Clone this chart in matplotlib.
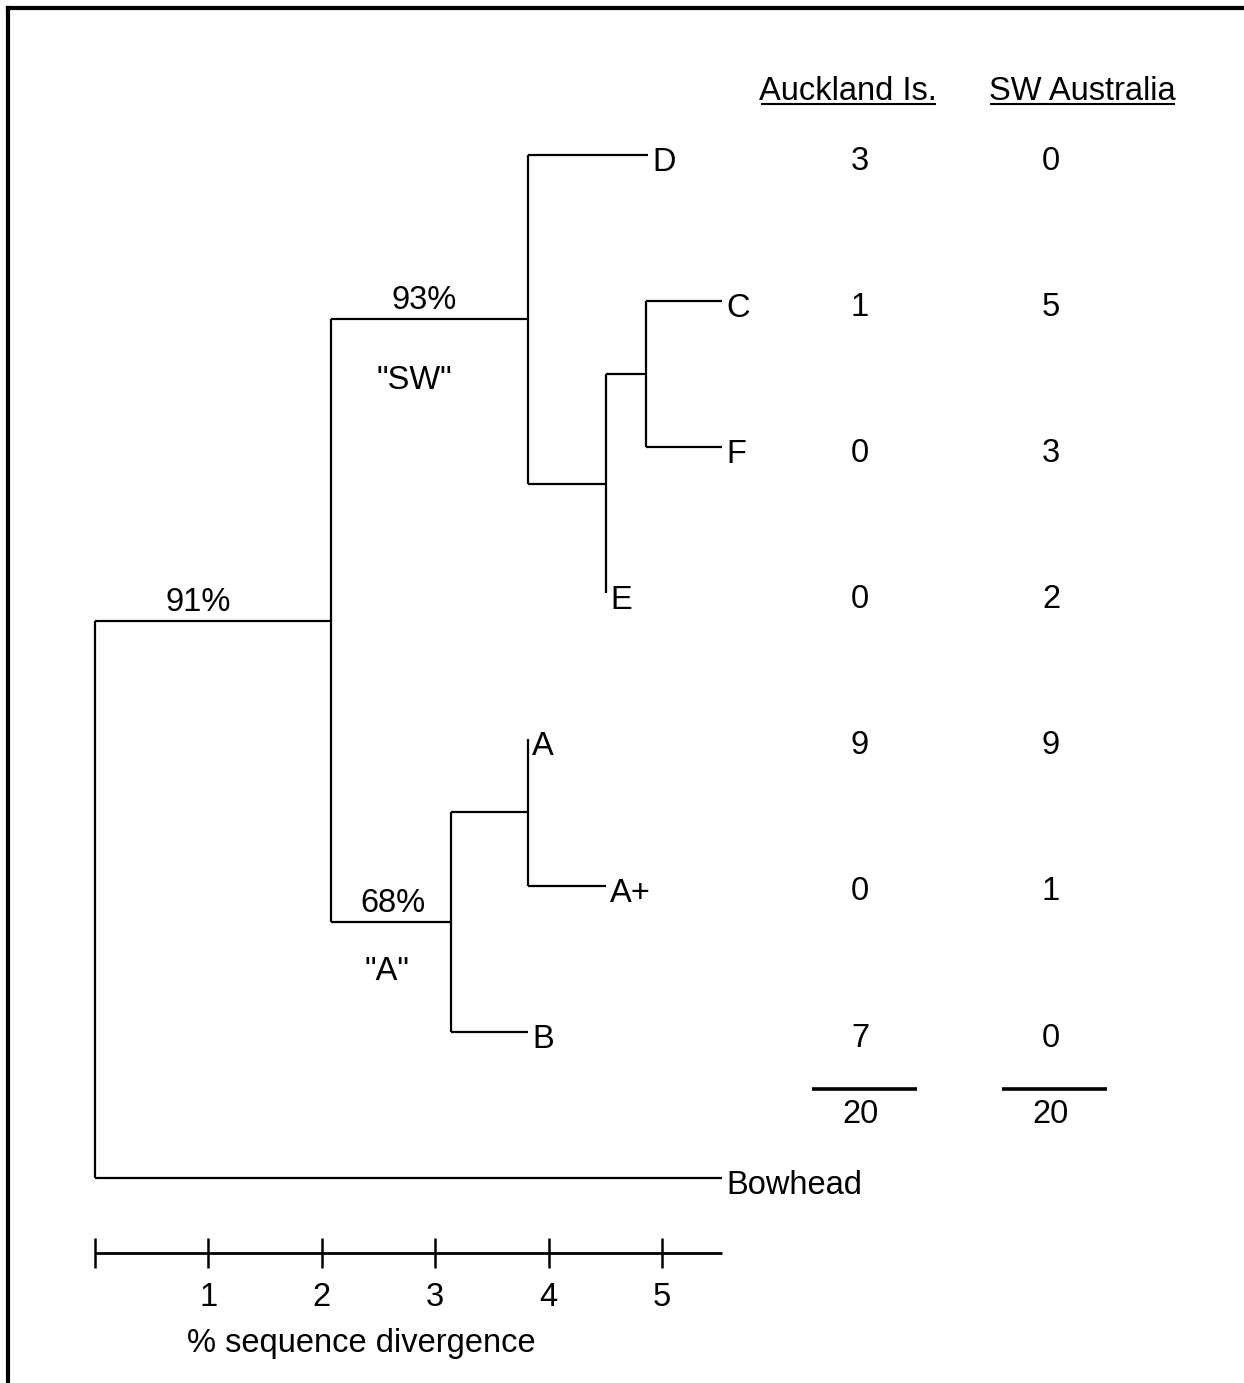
import matplotlib
matplotlib.use('Agg')
import matplotlib.pyplot as plt
from matplotlib.lines import Line2D

plt.rcParams['font.family'] = ['Liberation Sans', 'DejaVu Sans']

# ---------------- data ----------------
tip_names = ['D', 'C', 'F', 'E', 'A', 'A+', 'B', 'Bowhead']
tip_x = [4.88, 5.53, 5.53, 4.51, 3.82, 4.51, 3.82, 5.53]   # % divergence from root

node_names = ['CF', 'CFE', 'SW', 'AAp', 'Aclade', 'ingroup', 'root']
node_x = [4.86, 4.51, 3.82, 3.82, 3.14, 2.08, 0.0]
node_children = [['C', 'F'], ['CF', 'E'], ['D', 'CFE'], ['A', 'A+'],
                 ['AAp', 'B'], ['SW', 'Aclade'], ['ingroup', 'Bowhead']]

support_nodes = ['ingroup', 'SW', 'Aclade']
support_labels = ['91%', '93%', '68%']
clade_nodes = ['SW', 'Aclade']
clade_labels = ['"SW"', '"A"']

haplotypes = ['D', 'C', 'F', 'E', 'A', 'A+', 'B']
auckland = [3, 1, 0, 0, 9, 0, 7]
sw_australia = [0, 5, 3, 2, 9, 1, 0]
column_titles = ['Auckland Is.', 'SW Australia']

scale_ticks = [0, 1, 2, 3, 4, 5]
scale_tick_labels = ['', '1', '2', '3', '4', '5']
scale_end = 5.53
scale_label = '% sequence divergence'

# ---------------- layout ----------------
W, H, DPI = 1244, 1383, 100
X0, SX = 95.0, 113.4      # px of 0 divergence, px per 1 %
Y0, SY = 155.0, 146.1     # px of first tip row, px per row


def dx(px):
    return px / SX


def dy(px):
    return px / SY


def xpx(px):
    return (px - X0) / SX


def ypx(px):
    return (px - Y0) / SY


fig = plt.figure(figsize=(W / DPI, H / DPI), dpi=DPI)
ax = fig.add_axes([0, 0, 1, 1])
ax.set_xlim(xpx(0), xpx(W))
ax.set_ylim(ypx(H), ypx(0))
ax.axis('off')

FS = 23.5
LW = 1.6
K = 'black'

# positions
pos = {}
for i, n in enumerate(tip_names):
    pos[n] = (tip_x[i], float(i))
for n, x, ch in zip(node_names, node_x, node_children):
    ys = [pos[c][1] for c in ch]
    pos[n] = (x, (ys[0] + ys[-1]) / 2.0)

# draw tree
for n, x, ch in zip(node_names, node_x, node_children):
    ys = [pos[c][1] for c in ch]
    ax.plot([x, x], [min(ys), max(ys)], color=K, lw=LW, solid_capstyle='butt')
    for c in ch:
        cx, cy = pos[c]
        if cx > x:
            ax.plot([x, cx], [cy, cy], color=K, lw=LW, solid_capstyle='butt')

# tip labels
for n in tip_names:
    x, y = pos[n]
    ax.text(x + dx(4), y + dy(16), n, fontsize=FS, ha='left', va='baseline')

# support values and clade names
parent_of = {}
for n, ch in zip(node_names, node_children):
    for c in ch:
        parent_of[c] = n
support_dx = {'ingroup': -15, 'SW': -5, 'Aclade': 2}
for n, lab in zip(support_nodes, support_labels):
    x, y = pos[n]
    px_ = pos[parent_of[n]][0]
    ax.text((x + px_) / 2 + dx(support_dx[n]), y - dy(10), lab, fontsize=FS,
            ha='center', va='baseline')
clade_off = {'SW': (-15, 70), 'Aclade': (-4, 58)}
for n, lab in zip(clade_nodes, clade_labels):
    x, y = pos[n]
    px_ = pos[parent_of[n]][0]
    ox, oy = clade_off[n]
    ax.text((x + px_) / 2 + dx(ox), y + dy(oy), lab, fontsize=FS, ha='center', va='baseline')

# count columns
col_x = [xpx(860), xpx(1051)]
head_x = [xpx(848), xpx(1082)]
head_span = [(xpx(761), xpx(936)), (xpx(990), xpx(1175))]
sum_span = [(xpx(812), xpx(917)), (xpx(1002), xpx(1107))]
for ci, vals in enumerate([auckland, sw_australia]):
    ax.text(head_x[ci], ypx(100), column_titles[ci], fontsize=FS, ha='center', va='baseline')
    ax.plot(list(head_span[ci]), [ypx(104), ypx(104)], color=K, lw=1.5, solid_capstyle='butt')
    for h, v in zip(haplotypes, vals):
        y = pos[h][1]
        ax.text(col_x[ci], y + dy(15), str(v), fontsize=FS, ha='center', va='baseline')
    ax.plot(list(sum_span[ci]), [ypx(1089), ypx(1089)], color=K, lw=2.6, solid_capstyle='butt')
    ax.text(col_x[ci], ypx(1123), str(sum(vals)), fontsize=FS, ha='center', va='baseline')

# scale bar
ys = ypx(1253)
ax.plot([0, scale_end], [ys, ys], color=K, lw=2.0, solid_capstyle='butt')
for t, lab in zip(scale_ticks, scale_tick_labels):
    ax.plot([t, t], [ys - dy(15), ys + dy(15)], color=K, lw=1.8, solid_capstyle='butt')
    if lab:
        ax.text(t, ypx(1306), lab, fontsize=FS, ha='center', va='baseline')
ax.text(xpx(361), ypx(1352), scale_label, fontsize=FS, ha='center', va='baseline')

# frame (left and top edges of scanned box)
fig.add_artist(Line2D([8 / W, 8 / W], [0, 1 - 8 / H], transform=fig.transFigure, color=K, lw=3))
fig.add_artist(Line2D([8 / W, 1], [1 - 8 / H, 1 - 8 / H], transform=fig.transFigure, color=K, lw=3))

fig.savefig('out.png', dpi=DPI)
